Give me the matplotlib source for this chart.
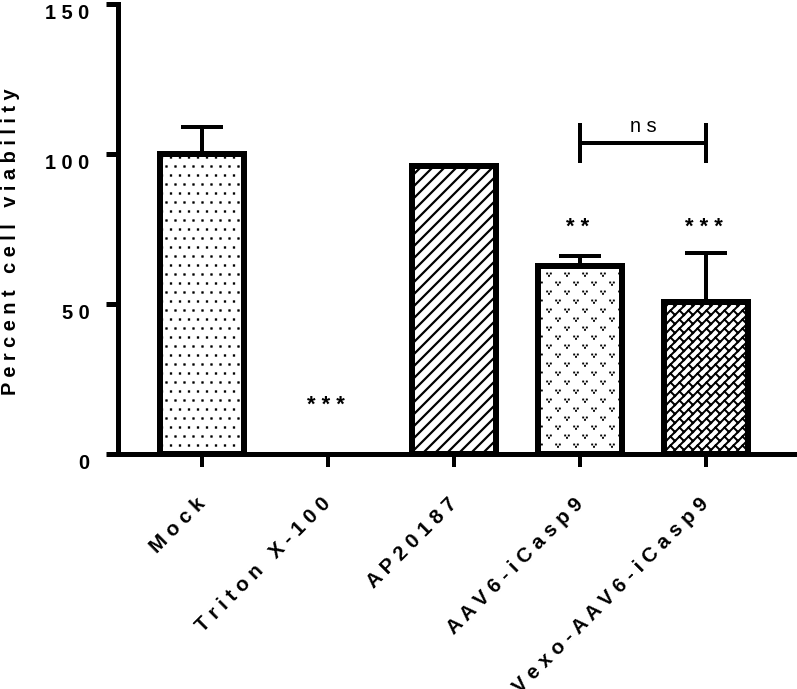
import numpy as np
import matplotlib
matplotlib.use('Agg')
import matplotlib.pyplot as plt
from matplotlib import hatch as mhatch
from matplotlib.path import Path

# ---------------- data ----------------
categories = ['Mock', 'Triton X-100', 'AP20187', 'AAV6-iCasp9', 'Vexo-AAV6-iCasp9']
viability = [100.0, 0.0, 96.0, 62.7, 50.5]
err_upper = [9.0, 0.0, 0.0, 3.3, 16.5]
star_marks = ['', '***', '', '**', '***']
star_y = [0, 16, 0, 75.5, 75.5]
yticks = [0, 50, 100, 150]
ns_pair = [3, 4]
ns_y = 103.7
ns_label = 'ns'
ylabel = 'Percent cell viability'
bar_hatch = ['.', '', '/', 'o', '*']

plt.rcParams['font.family'] = ['Liberation Sans', 'DejaVu Sans']


def spaced(s):
    return '   '.join(' '.join(w) for w in s.split(' '))


# ---------------- custom hatch patterns (72 px tile at dpi 72) ----------------
U = 1.0 / 72.0


def square(cx, cy, h):
    v = [(cx - h, cy - h), (cx + h, cy - h), (cx + h, cy + h), (cx - h, cy + h), (cx - h, cy - h)]
    c = [Path.MOVETO, Path.LINETO, Path.LINETO, Path.LINETO, Path.CLOSEPOLY]
    return v, c


def build_dots():
    V, C = [], []
    n = 8
    for r in range(-1, n + 1):
        off = 0.5 / n if r % 2 else 0.0
        y = (r + 0.5) / n
        for k in range(-1, n + 2):
            v, c = square(k / n + off, y, 0.65 * U)
            V += v; C += c
    return V, C


def build_diag():
    V, C = [], []
    n = 6
    for k in range(-n - 1, n + 2):
        t = k / n
        V += [(-1.0, -1.0 + t), (2.0, 2.0 + t)]
        C += [Path.MOVETO, Path.LINETO]
    return V, C


def build_vdots():
    V, C = [], []
    nx, ny = 4, 8
    motif = [(-1.8, 1.0), (1.8, 1.0), (0.0, -1.3)]
    for r in range(-1, ny + 1):
        off = 0.5 / nx if r % 2 else 0.0
        y = (r + 0.5) / ny
        for k in range(-1, nx + 2):
            xx = k / nx + off
            for dx, dy in motif:
                v, c = square(xx + dx * U, y + dy * U, 0.55 * U)
                V += v; C += c
    return V, C


def build_bricks():
    V, C = [], []
    T = 1.0 / 8
    S = 1.0 / 4
    for k in range(-10, 11):
        t = k * T
        V += [(-1.0, -1.0 + t), (2.0, 2.0 + t)]
        C += [Path.MOVETO, Path.LINETO]
    for k in range(-10, 10):
        t0, t1 = k * T, (k + 1) * T
        shift = S / 2 if k % 2 else 0.0
        for m in range(-2, 10):
            s = m * S + shift
            V += [((s - t0) / 2, (s + t0) / 2), ((s - t1) / 2, (s + t1) / 2)]
            C += [Path.MOVETO, Path.LINETO]
    return V, C


def make_hatch_class(char, builder):
    verts, codes = builder()
    verts = np.asarray(verts, float)
    codes = np.asarray(codes, Path.code_type)

    class H(mhatch.HatchPatternBase):
        def __init__(self, hatch, density):
            self.num_vertices = len(verts) if char in hatch else 0

        def set_vertices_and_codes(self, vertices, codes_out):
            vertices[:] = verts
            codes_out[:] = codes

        get_vertices_and_codes = set_vertices_and_codes
    return H


mhatch._hatch_types[:] = [
    make_hatch_class('.', build_dots),
    make_hatch_class('/', build_diag),
    make_hatch_class('o', build_vdots),
    make_hatch_class('*', build_bricks),
]
hatch_lw = {'.': 1.0, '/': 2.2, 'o': 0.8, '*': 2.0, '': 1.0}

# ---------------- figure ----------------
W, H = 797, 689
fig = plt.figure(figsize=(W / 72, H / 72), dpi=72)
ax = fig.add_axes([117.5 / W, 1 - 453.7 / H, (794 - 117.5) / W, (453.7 - 4) / H])

x = np.arange(len(categories))
for i, (v, hp) in enumerate(zip(viability, bar_hatch)):
    plt.rcParams['hatch.linewidth'] = hatch_lw[hp]
    b = ax.bar(x[i], v, width=0.673, facecolor='white', edgecolor='black',
               linewidth=6 if v > 0 else 0, hatch=hp if hp else None, zorder=2)
    for p in b:
        if hasattr(p, 'set_hatch_linewidth'):
            p.set_hatch_linewidth(hatch_lw[hp])

idx = [i for i, e in enumerate(err_upper) if e > 0]
ax.errorbar(x[idx], np.array(viability)[idx],
            yerr=[np.zeros(len(idx)), np.array(err_upper)[idx]],
            fmt='none', ecolor='black', elinewidth=4, capsize=21, capthick=4, zorder=3)

for i, (s, yy) in enumerate(zip(star_marks, star_y)):
    if s:
        ax.text(x[i] - 0.02, yy, spaced(s), ha='center', va='center', fontsize=22,
                fontweight='bold', color='black')

# ns bracket
ax.hlines(ns_y, ns_pair[0], ns_pair[1], color='black', lw=4)
ax.vlines(ns_pair, ns_y - 6.7, ns_y + 6.6, color='black', lw=4)
ax.text(np.mean(ns_pair), ns_y + 5.3, spaced(ns_label), ha='center', va='center',
        fontsize=20, color='black')

ax.set_xlim(-0.671, 4.698)
ax.set_ylim(0, 150)
for sp in ['top', 'right']:
    ax.spines[sp].set_visible(False)
for sp in ['left', 'bottom']:
    ax.spines[sp].set_linewidth(5)

ax.set_yticks(yticks)
ax.set_yticklabels([spaced(str(t)) for t in yticks], fontsize=20, fontweight='bold',
                   va='top')
ax.tick_params(axis='y', length=12, width=5, pad=16)

ax.set_xticks(x)
ax.set_xticklabels([spaced(c) for c in categories], fontsize=20.5, fontweight='bold',
                   rotation=45, ha='right', va='center', rotation_mode='anchor')
ax.tick_params(axis='x', length=13, width=4, pad=34)

ax.set_ylabel(spaced(ylabel), fontsize=20, fontweight='bold')
ax.yaxis.set_label_coords(-0.144, 0.471)

fig.savefig('out.png', dpi=72)
